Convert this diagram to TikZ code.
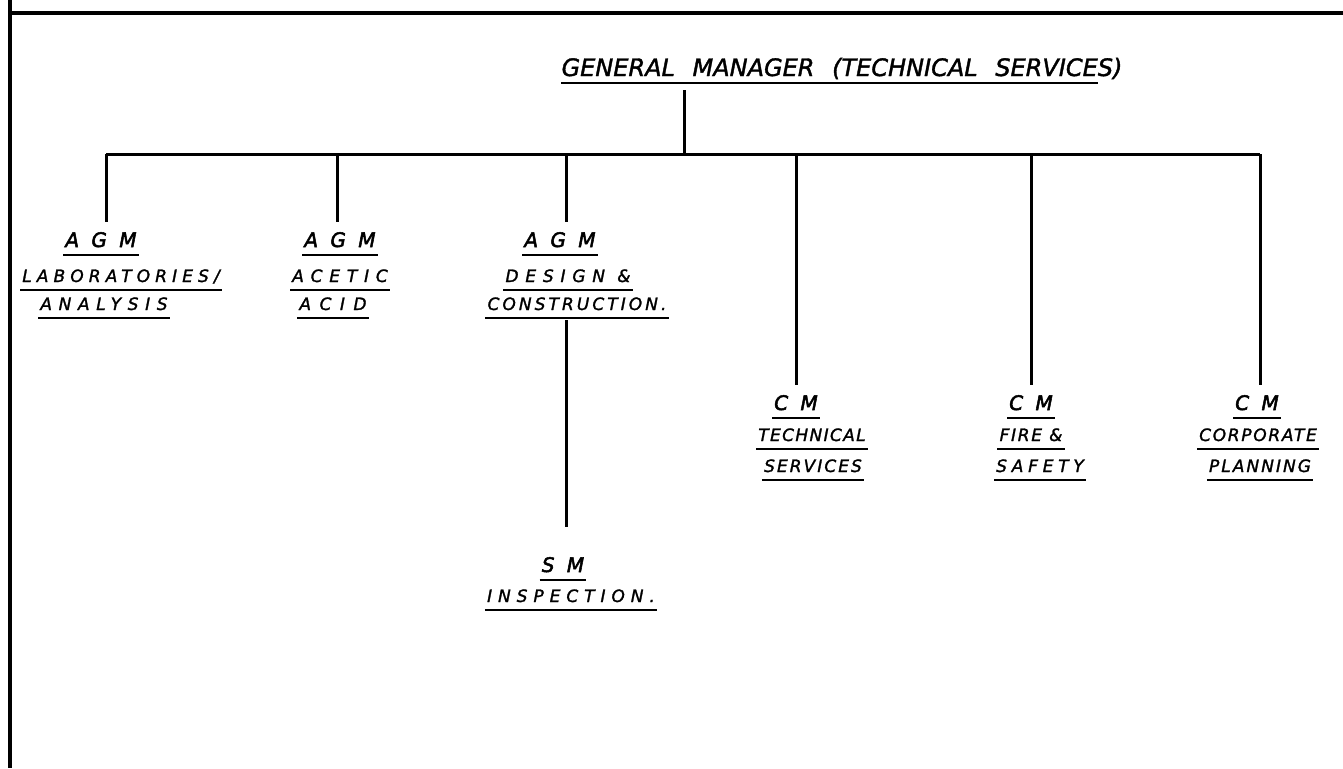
\documentclass[tikz,border=0pt]{standalone}
\usepackage{fontspec}
\newfontfamily\lettfont{DejaVu Sans Oblique}[FakeBold=1.5]
\tikzset{
  conn/.style={line width=3pt},
  ul/.style={line width=1.8pt},
  frame/.style={line width=4.5pt},
  lbl/.style={inner xsep=2pt, inner ysep=0pt, text depth=0pt, anchor=base,
    append after command={([yshift=-8pt]\tikzlastnode.base west) edge[ul] ([yshift=-8pt]\tikzlastnode.base east)}},
  title/.style={inner xsep=0pt, inner ysep=0pt, text depth=0pt, anchor=base,
    font=\lettfont\fontsize{24}{24}\selectfont},
  head/.style={lbl, font=\lettfont\addfontfeature{LetterSpace=30,FakeBold=2.5}\fontsize{20}{20}\selectfont},
  sub/.style={lbl, font=\lettfont\addfontfeature{LetterSpace=#1}\fontsize{17}{17}\selectfont},
  sub/.default=30,
}
\begin{document}
\begin{tikzpicture}[x=1pt,y=-1pt]
\useasboundingbox (0,0) rectangle (1343,768);
\fill[white] (0,0) rectangle (1343,768);
% frame
\draw[frame] (10,0) -- (10,768);
\draw[frame] (10,13) -- (1343,13);

% title
\node[title] (gm) at (842,76) {GENERAL\hspace{10pt} MANAGER\hspace{10pt} (TECHNICAL\hspace{10pt} SERVICES)};
\draw[ul] ([yshift=-7pt]gm.base west) -- ([yshift=-7pt,xshift=-25pt]gm.base east);

% bus coordinates
\coordinate (stem) at (684,154);
\coordinate (b1) at (106,154);
\coordinate (b2) at (337,154);
\coordinate (b3) at (566,154);
\coordinate (b4) at (796,154);
\coordinate (b5) at (1031,154);
\coordinate (b6) at (1260,154);

% AGM groups
\node[head] (a1) at (101,247) {A G M};
\node[sub=30]  (a1l1) at (121,282) {LABORATORIES/};
\node[sub=39]  (a1l2) at (104,310) {ANALYSIS};

\node[head] (a2) at (340,247) {A G M};
\node[sub=40]  (a2l1) at (340,282) {ACETIC};
\node[sub=50]  (a2l2) at (333,310) {ACID};

\node[head] (a3) at (560,247) {A G M};
\node[sub=40]  (a3l1) at (568,282) {DESIGN \&};
\node[sub=18]  (a3l2) at (577,310) {CONSTRUCTION.};

\node[head] (sm) at (563,572) {S M};
\node[sub=35]  (sml1) at (571,602) {INSPECTION.};

% CM groups
\node[head] (c1) at (796,410) {C M};
\node[sub=8]  (c1l1) at (812,441) {TECHNICAL};
\node[sub=12]  (c1l2) at (813,472) {SERVICES};

\node[head] (c2) at (1031,410) {C M};
\node[sub=10]  (c2l1) at (1031,441) {FIRE \&};
\node[sub=28]  (c2l2) at (1040,472) {SAFETY};

\node[head] (c3) at (1257,410) {C M};
\node[sub=10]  (c3l1) at (1258,441) {CORPORATE};
\node[sub=12]  (c3l2) at (1260,472) {PLANNING};

% connectors
\draw[conn] ([yshift=-14pt]gm.base -| stem) -- (stem);
\draw[conn] (b1) -- (b6);
\draw[conn,shorten >=10pt] (b1) -- (b1 |- a1.north);
\draw[conn,shorten >=10pt] (b2) -- (b2 |- a2.north);
\draw[conn,shorten >=10pt] (b3) -- (b3 |- a3.north);
\draw[conn,shorten >=10pt] (b4) -- (b4 |- c1.north);
\draw[conn,shorten >=10pt] (b5) -- (b5 |- c2.north);
\draw[conn,shorten >=10pt] (b6) -- (b6 |- c3.north);
\draw[conn,shorten <=10pt,shorten >=30pt] (b3 |- a3l2.base) -- (b3 |- sm.north);
\end{tikzpicture}
\end{document}
